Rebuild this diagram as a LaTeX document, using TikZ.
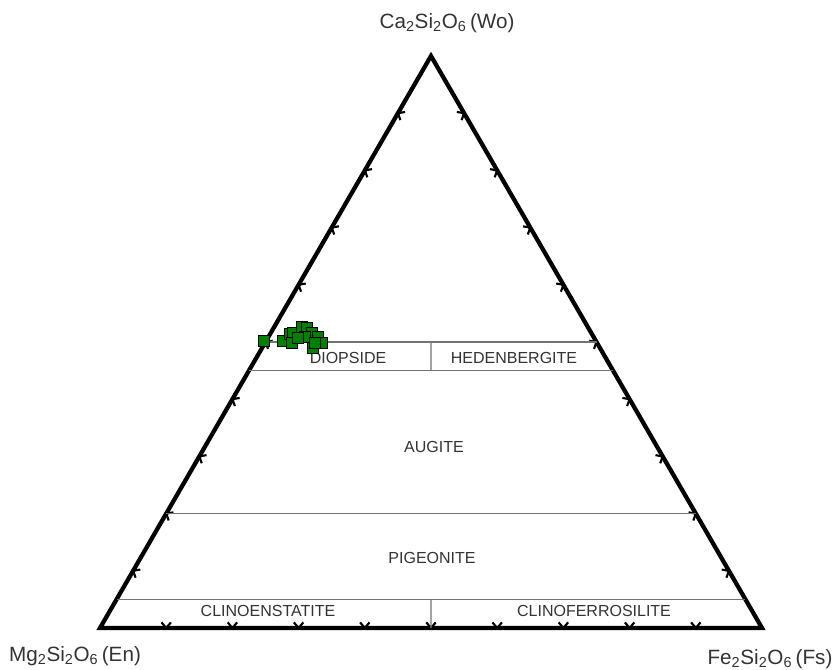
\documentclass[tikz,border=0pt]{standalone}
\usepackage{fontspec}
\setmainfont{Liberation Sans}
\usetikzlibrary{calc}
\definecolor{cpxgreen}{RGB}{0,128,0}
\definecolor{labelgray}{RGB}{51,51,51}

\begin{document}
\begin{tikzpicture}[x=0.75pt,y=-0.75pt,
  edge/.style={line width=3.2pt, line join=miter},
  field/.style={draw=black!55, line width=0.9pt},
  fieldname/.style={text=labelgray, font=\fontsize{12}{14}\selectfont},
  endmember/.style={text=labelgray, font=\fontsize{15.5}{18}\selectfont},
  tickmark/.style={line width=1.6pt},
  sample/.style={draw=black, fill=cpxgreen, minimum size=8pt, inner sep=0pt, line width=0.7pt}]
\useasboundingbox (0,0) rectangle (834,670);
% end members
\coordinate (En) at (100,628);
\coordinate (Fs) at (762,628);
\coordinate (Wo) at (431,56);
\draw[edge] (En) -- (Fs) -- (Wo) -- cycle;
% ticks every 10 mol%
\foreach \a/\b in {En/Fs,Fs/Wo,Wo/En}{
  \foreach \k in {1,...,9}{
    \coordinate (tk) at ($(\a)!{\k/10}!(\b)$);
    \draw[tickmark] ($(tk)!5.5pt!50:(\b)$) -- (tk) -- ($(tk)!5.5pt!130:(\b)$);
  }
}
% field boundaries (Wo 50, 45, 20, 5)
\coordinate (wo50a) at ($(En)!0.50!(Wo)$);
\coordinate (wo50b) at ($(Fs)!0.50!(Wo)$);
\coordinate (wo45a) at ($(En)!0.45!(Wo)$);
\coordinate (wo45b) at ($(Fs)!0.45!(Wo)$);
\coordinate (wo20a) at ($(En)!0.20!(Wo)$);
\coordinate (wo20b) at ($(Fs)!0.20!(Wo)$);
\coordinate (wo05a) at ($(En)!0.05!(Wo)$);
\coordinate (wo05b) at ($(Fs)!0.05!(Wo)$);
\draw[field] (wo50a) -- (wo50b);
\draw[field] (wo45a) -- (wo45b);
\draw[field] (wo20a) -- (wo20b);
\draw[field] (wo05a) -- (wo05b);
\draw[field] ($(wo50a)!0.5!(wo50b)$) -- ($(wo45a)!0.5!(wo45b)$);
\draw[field] ($(wo05a)!0.5!(wo05b)$) -- ($(En)!0.5!(Fs)$);
% field names
\node[fieldname] (di) at (348,358) {DIOPSIDE};
\node[fieldname] (hd) at (514,358) {HEDENBERGITE};
\node[fieldname] (aug) at (434,447) {AUGITE};
\node[fieldname] (pig) at (432,558) {PIGEONITE};
\node[fieldname] (cen) at (268,611) {CLINOENSTATITE};
\node[fieldname] (cfs) at (594,611) {CLINOFERROSILITE};
% apex labels
\node[endmember] (wolabel) at (447,23) {Ca\textsubscript{2}Si\textsubscript{2}O\textsubscript{6}\,(Wo)};
\node[endmember] (enlabel) at (75,656) {Mg\textsubscript{2}Si\textsubscript{2}O\textsubscript{6}\,(En)};
\node[endmember] (fslabel) at (770,659) {Fe\textsubscript{2}Si\textsubscript{2}O\textsubscript{6}\,(Fs)};
% analyses
\foreach \px/\py [count=\i] in {264/341,283/341,290/334,293/333,302/327,307/328,312/333,
    318/337,322/343,313/348,292/343,305/337,315/343,298/338}
  \node[sample] (cpx\i) at (\px,\py) {};
\end{tikzpicture}
\end{document}
